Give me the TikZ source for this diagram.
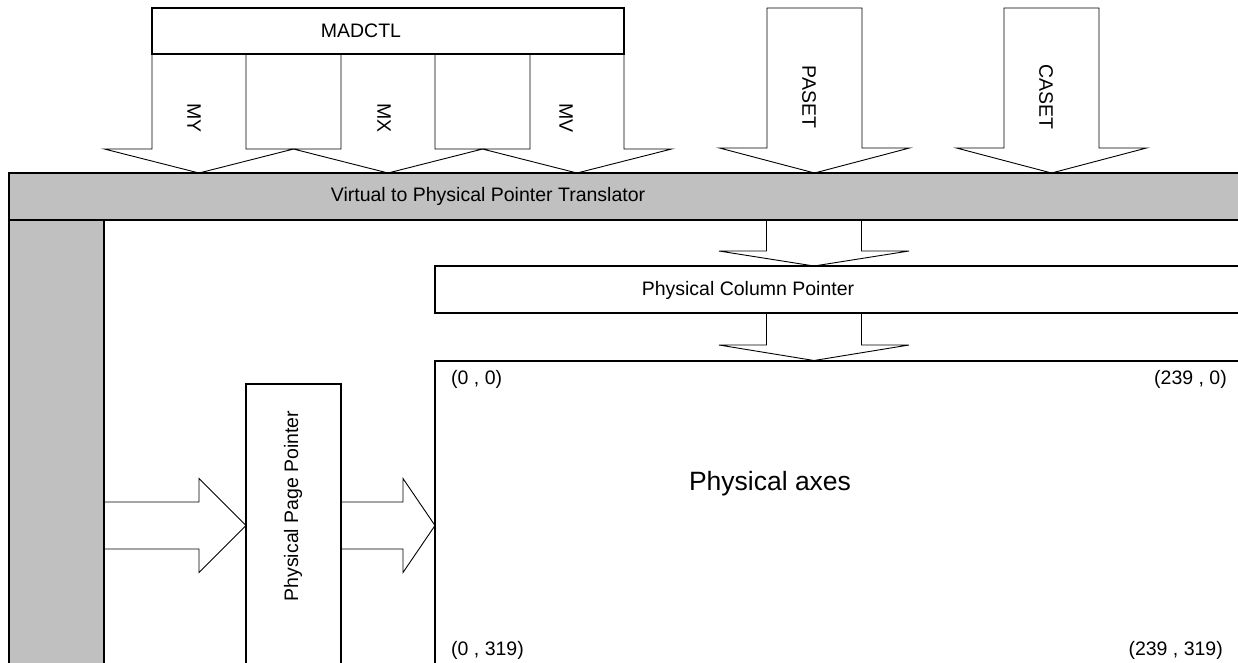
\documentclass[tikz,border=0pt]{standalone}
\usepackage{fontspec}
\setmainfont{Liberation Sans}
\usetikzlibrary{positioning}
\definecolor{panelgrey}{RGB}{192,192,192}

\tikzset{
  box/.style={draw, line width=2pt, inner sep=0pt, outer sep=0pt},
  greybox/.style={box, fill=panelgrey},
  blockarrow/.style={draw, line width=0.9pt, fill=white, line join=miter},
  lbl/.style={font=\fontsize{19.5}{23}\selectfont, inner sep=0pt},
  biglbl/.style={font=\fontsize{26.5}{31}\selectfont, inner sep=0pt}
}

% down block arrow: centre x, top y, shoulder y, tip y, half shaft, half head
\newcommand{\vblock}[6]{%
  \draw[blockarrow] (#1-#5,#2) -- (#1-#5,#3) -- (#1-#6,#3) -- (#1,#4)
    -- (#1+#6,#3) -- (#1+#5,#3) -- (#1+#5,#2) -- cycle;}
% right block arrow: centre y, start x, shoulder x, tip x, half shaft, half head
\newcommand{\hblock}[6]{%
  \draw[blockarrow] (#2,#1-#5) -- (#3,#1-#5) -- (#3,#1-#6) -- (#4,#1)
    -- (#3,#1+#6) -- (#3,#1+#5) -- (#2,#1+#5) -- cycle;}

\begin{document}
\begin{tikzpicture}[x=1pt, y=-1pt]
\useasboundingbox (0,0) rectangle (1238,662);
\clip (0,0) rectangle (1238,662);

\vblock{199}{54}{149}{173}{47}{94.6}
\vblock{388}{54}{149}{173}{47}{94.6}
\vblock{577}{54}{149}{173}{47}{94.6}
\vblock{814.5}{8}{148}{173}{47.5}{95}
\vblock{1051.5}{8}{148}{173}{47.5}{95}
\vblock{814}{220}{251}{266}{47.5}{95}
\vblock{814}{313}{345}{360.5}{47.5}{95}
\hblock{525.5}{104}{199}{246}{23.5}{47}
\hblock{525.5}{341}{403}{435}{23.5}{47}

\node[box, fill=white, minimum width=472, minimum height=46, anchor=north west] (madctl) at (152,8) {};
\node[lbl] (madctltxt) at (361,31) {MADCTL};
\node[lbl, rotate=-90] (my) at (194,118) {MY};
\node[lbl, rotate=-90] (mx) at (384,118) {MX};
\node[lbl, rotate=-90] (mv) at (566,118) {MV};
\node[lbl, rotate=-90] (paset) at (809,97) {PASET};
\node[lbl, rotate=-90] (caset) at (1046,97) {CASET};

\node[greybox, minimum width=1260, minimum height=46.5, anchor=north west] (vpt) at (9,173) {};
\node[lbl] (vpttxt) at (488,196) {Virtual to Physical Pointer Translator};
\node[greybox, minimum width=95, minimum height=480, anchor=north west] (lcol) at (9,219.5) {};

\node[box, minimum width=840, minimum height=47, anchor=north west] (colptr) at (435,266) {};
\node[lbl] (colptrtxt) at (748,290) {Physical Column Pointer};

\node[box, minimum width=95, minimum height=320, anchor=north west] (pageptr) at (246,384) {};
\node[lbl, rotate=90] (pageptrtxt) at (293,506) {Physical Page Pointer};

\node[box, minimum width=840, minimum height=340, anchor=north west] (axes) at (435,360.5) {};
\node[biglbl] (axestxt) at (770,484) {Physical axes};
\node[lbl, anchor=west] (p00) at (451,379) {(0 , 0)};
\node[lbl, anchor=east] (p10) at (1227,379) {(239 , 0)};
\node[lbl, anchor=west] (p01) at (451,650) {(0 , 319)};
\node[lbl, anchor=east] (p11) at (1223,650) {(239 , 319)};
\end{tikzpicture}
\end{document}
